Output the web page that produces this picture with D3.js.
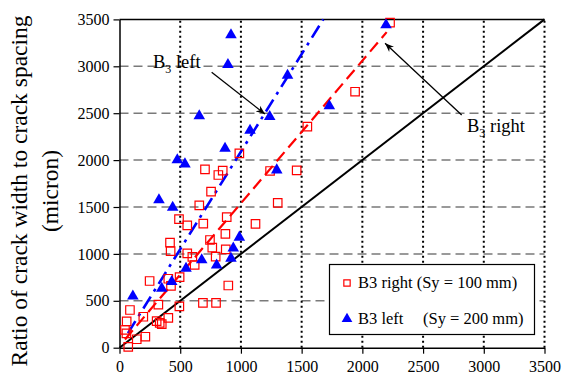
<!DOCTYPE html>
<html>
  <head>
    <script type="text/javascript" src="https://d3js.org/d3.v7.min.js"></script>
    <style>
      body { margin: 0; background: #fff; }
      text { font-family: "Liberation Serif", "Times New Roman", serif; }
    </style>
  </head>
  <body>
  </body>
  <script>

// tick values (both axes)
var ticks = [0, 500, 1000, 1500, 2000, 2500, 3000, 3500];

// B3 right (Sy = 100 mm) - red squares
var rightX = [987, 1547, 1940, 2228, 704, 814, 850, 1240, 1459, 754, 657, 1303, 490, 558, 690, 883,
              1120, 416, 421, 558, 600, 619, 745, 764, 792, 872, 875, 896, 248, 402, 424, 495,
              493, 687, 795, 320, 86, 196, 59, 45, 57, 142, 213, 72, 306, 331, 348, 402];
var rightY = [2072, 2356, 2729, 3465, 1902, 1841, 1887, 1884, 1890, 1663, 1518, 1543, 1370, 1304, 1322, 1393,
              1320, 1120, 1030, 1006, 968, 882, 1148, 1066, 970, 1214, 1049, 663, 711, 735, 660, 752,
              441, 477, 477, 459, 402, 330, 281, 189, 153, 90, 117, 8, 283, 265, 251, 317];

// B3 left (Sy = 200 mm) - blue triangles
var leftX = [110, 325, 438, 348, 430, 548, 677, 800, 918, 937, 987, 1295, 1728, 2195, 918, 893,
             657, 1237, 1384, 1075, 869, 476, 539];
var leftY = [550, 1575, 1495, 633, 704, 846, 935, 881, 953, 1060, 1177, 1894, 2577, 3440, 3335, 3018,
             2470, 2462, 2903, 2316, 2125, 2001, 1958];

// trend lines
var fitRightX = [45, 2200], fitRightY = [88, 3364];
var fitLeftX = [70, 1678],  fitLeftY = [156, 3500];
var equalX = [0, 3500],     equalY = [0, 3500];

var W = 563, H = 389;
var x = d3.scaleLinear().domain([0, 3500]).range([119.5, 544.5]);
var y = d3.scaleLinear().domain([0, 3500]).range([347.7, 19.4]);

var svg = d3.select("body").append("svg").attr("width", W).attr("height", H);

// horizontal dashed grid
svg.append("g").selectAll("line").data(ticks.slice(1, 7)).enter().append("line")
  .attr("x1", x(0)).attr("x2", x(3500))
  .attr("y1", function(d){ return y(d); }).attr("y2", function(d){ return y(d); })
  .attr("stroke", "#7a7a7a").attr("stroke-width", 1.5).attr("stroke-dasharray", "9,5");

// vertical dotted grid
svg.append("g").selectAll("line").data(ticks.slice(1)).enter().append("line")
  .attr("y1", y(0)).attr("y2", y(3500))
  .attr("x1", function(d){ return x(d); }).attr("x2", function(d){ return x(d); })
  .attr("stroke", "#000").attr("stroke-width", 2).attr("stroke-dasharray", "2,3");

// top border
svg.append("line").attr("x1", x(0)).attr("x2", x(3500)).attr("y1", y(3500)).attr("y2", y(3500))
  .attr("stroke", "#000").attr("stroke-width", 1.5);

// axes
var xAxis = d3.axisBottom(x).tickValues(ticks).tickFormat(d3.format("d")).tickSize(6).tickSizeOuter(0);
var yAxis = d3.axisLeft(y).tickValues(ticks).tickFormat(d3.format("d")).tickSize(6).tickSizeOuter(0);
var gx = svg.append("g").attr("transform", "translate(0," + y(0) + ")").call(xAxis);
var gy = svg.append("g").attr("transform", "translate(" + x(0) + ",0)").call(yAxis);
[gx, gy].forEach(function(g){
  g.attr("font-family", "Liberation Serif").attr("font-size", 16);
  g.select(".domain").attr("stroke", "#000").attr("stroke-width", 1.5);
  g.selectAll(".tick line").attr("stroke", "#000").attr("stroke-width", 1.2);
  g.selectAll(".tick text").attr("fill", "#000");
});
gx.selectAll(".tick text").attr("dy", "0.95em");
gy.selectAll(".tick text").attr("x", -10);

// lines
var line = d3.line().x(function(d){ return x(d[0]); }).y(function(d){ return y(d[1]); });
function pts(xs, ys){ return xs.map(function(v, i){ return [v, ys[i]]; }); }

svg.append("path").datum(pts(equalX, equalY)).attr("d", line)
  .attr("fill", "none").attr("stroke", "#000").attr("stroke-width", 2);
svg.append("path").datum(pts(fitRightX, fitRightY)).attr("d", line)
  .attr("fill", "none").attr("stroke", "#ff0000").attr("stroke-width", 2.2).attr("stroke-dasharray", "12,6");
svg.append("path").datum(pts(fitLeftX, fitLeftY)).attr("d", line)
  .attr("fill", "none").attr("stroke", "#0000ff").attr("stroke-width", 2.6).attr("stroke-dasharray", "14,6,3,6");

// markers
var sq = d3.symbol().type(d3.symbolSquare).size(72);
var tri = d3.symbol().type(d3.symbolTriangle).size(58);

svg.append("g").selectAll("path").data(pts(rightX, rightY)).enter().append("path")
  .attr("d", sq)
  .attr("transform", function(d){ return "translate(" + x(d[0]) + "," + y(d[1]) + ")"; })
  .attr("fill", "none").attr("stroke", "#ff0000").attr("stroke-width", 1.2);

svg.append("g").selectAll("path").data(pts(leftX, leftY)).enter().append("path")
  .attr("d", tri)
  .attr("transform", function(d){ return "translate(" + x(d[0]) + "," + y(d[1]) + ")"; })
  .attr("fill", "#0000ff");

// annotations
svg.append("defs").append("marker").attr("id", "arr")
  .attr("viewBox", "0 0 10 10").attr("refX", 10).attr("refY", 5)
  .attr("markerWidth", 9).attr("markerHeight", 9).attr("orient", "auto")
  .attr("markerUnits", "userSpaceOnUse")
  .append("path").attr("d", "M0,1 L10,5 L0,9 L3,5 Z").attr("fill", "#000");

function arrow(x1, y1, x2, y2){
  svg.append("line").attr("x1", x(x1)).attr("y1", y(y1)).attr("x2", x(x2)).attr("y2", y(y2))
    .attr("stroke", "#000").attr("stroke-width", 1.3).attr("marker-end", "url(#arr)");
}
arrow(759, 2936, 1198, 2491);
arrow(2818, 2481, 2187, 3245);

function label(xv, yv, word){
  var t = svg.append("text").attr("x", x(xv)).attr("y", y(yv)).attr("font-size", 18.5).attr("fill", "#000");
  t.append("tspan").text("B");
  t.append("tspan").attr("font-size", 12).attr("dy", 5).text("3");
  t.append("tspan").attr("dy", -5).text(" " + word);
}
label(276, 2980, "left");
label(2862, 2300, "right");

// legend
var lg = svg.append("g");
lg.append("rect").attr("x", 329.5).attr("y", 264.5).attr("width", 205).attr("height", 70)
  .attr("fill", "#fff").attr("stroke", "#000").attr("stroke-width", 1.2);
lg.append("path").attr("d", d3.symbol().type(d3.symbolSquare).size(40))
  .attr("transform", "translate(347,283)").attr("fill", "none").attr("stroke", "#ff0000").attr("stroke-width", 1.2);
lg.append("path").attr("d", d3.symbol().type(d3.symbolTriangle).size(50))
  .attr("transform", "translate(347,319)").attr("fill", "#0000ff");
lg.append("text").attr("x", 358).attr("y", 288).attr("font-size", 16.5).text("B3 right (Sy = 100 mm)");
lg.append("text").attr("x", 358).attr("y", 324).attr("font-size", 16.5).text("B3 left");
lg.append("text").attr("x", 423).attr("y", 324).attr("font-size", 16.5).text("(Sy = 200 mm)");

// y title
var yt = svg.append("text").attr("transform", "translate(27,191) rotate(-90)")
  .attr("text-anchor", "middle").attr("font-size", 23.5).attr("fill", "#000");
yt.append("tspan").attr("x", 0).attr("y", 0).text("Ratio of crack width to crack spacing");
yt.append("tspan").attr("x", 0).attr("y", 31).text("(micron)");

  </script>
</html>
